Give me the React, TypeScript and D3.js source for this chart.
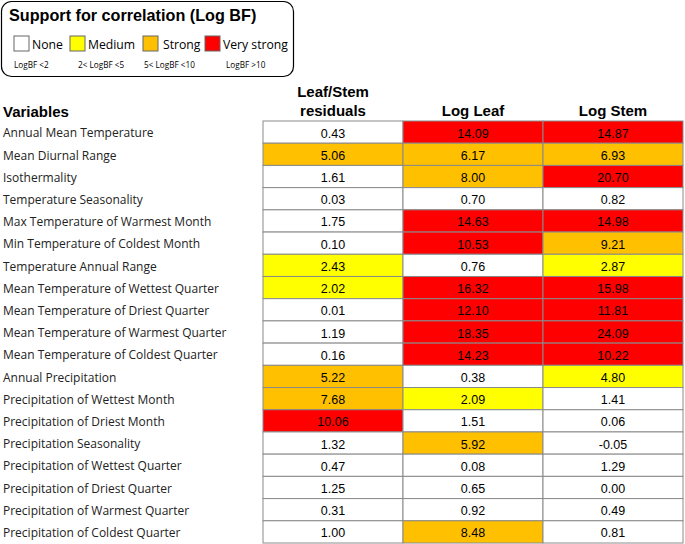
import React from "react";
import * as d3 from "d3";

const variables = [
  "Annual Mean Temperature",
  "Mean Diurnal Range",
  "Isothermality",
  "Temperature Seasonality",
  "Max Temperature of Warmest Month",
  "Min Temperature of Coldest Month",
  "Temperature Annual Range",
  "Mean Temperature of Wettest Quarter",
  "Mean Temperature of Driest Quarter",
  "Mean Temperature of Warmest Quarter",
  "Mean Temperature of Coldest Quarter",
  "Annual Precipitation",
  "Precipitation of Wettest Month",
  "Precipitation of Driest Month",
  "Precipitation Seasonality",
  "Precipitation of Wettest Quarter",
  "Precipitation of Driest Quarter",
  "Precipitation of Warmest Quarter",
  "Precipitation of Coldest Quarter",
];

const residuals = [0.43, 5.06, 1.61, 0.03, 1.75, 0.1, 2.43, 2.02, 0.01, 1.19, 0.16, 5.22, 7.68, 10.06, 1.32, 0.47, 1.25, 0.31, 1.0];
const logLeaf = [14.09, 6.17, 8.0, 0.7, 14.63, 10.53, 0.76, 16.32, 12.1, 18.35, 14.23, 0.38, 2.09, 1.51, 5.92, 0.08, 0.65, 0.92, 8.48];
const logStem = [14.87, 6.93, 20.7, 0.82, 14.98, 9.21, 2.87, 15.98, 11.81, 24.09, 10.22, 4.8, 1.41, 0.06, -0.05, 1.29, 0.0, 0.49, 0.81];

const columns = ["residuals", "leaf", "stem"];
const columnTitles = [["Leaf/Stem", "residuals"], ["Log Leaf"], ["Log Stem"]];
const seriesValues = [residuals, logLeaf, logStem];

const legendLabels = ["None", "Medium", "Strong", "Very strong"];
const legendSubLabels = ["LogBF <2", "2< LogBF <5", "5< LogBF <10", "LogBF >10"];
const thresholds = [2, 5, 10];
const colors = ["#FFFFFF", "#FFFF00", "#FFC000", "#FF0000"];

export default function App() {
  const width = 685;
  const height = 544;
  const color = d3.scaleThreshold<number, string>().domain(thresholds).range(colors);
  const x = d3.scaleBand().domain(columns).range([263, 683]);
  const y = d3.scaleBand().domain(variables).range([121, 543]);
  const bw = x.bandwidth();
  const bh = y.bandwidth();

  const legendSwatchX = [14, 70, 143, 205];
  const legendSubX = [14, 78, 144, 226];

  return (
    <svg width={width} height={height} style={{ position: "absolute", left: 0, top: 0 }}>
      <rect x={0} y={0} width={width} height={height} fill="#fff" />
      {/* legend */}
      <rect x={1.5} y={1.5} width={292} height={75} rx={10} ry={10} fill="#fff" stroke="#000" strokeWidth={1.2} />
      <text x={9} y={21} fontFamily="Liberation Sans, Arial, sans-serif" fontWeight="bold" fontSize={16.2}>
        Support for correlation (Log BF)
      </text>
      {legendLabels.map((l, i) => (
        <g key={l}>
          <rect x={legendSwatchX[i]} y={36} width={15} height={15} fill={colors[i]} stroke="#666" strokeWidth={1} />
          <text x={legendSwatchX[i] + 18 + (i === 2 ? 2 : 0)} y={49} fontFamily="Open Sans, sans-serif" fontSize={12.2}>
            {l}
          </text>
          <text x={legendSubX[i]} y={68} fontFamily="Open Sans, sans-serif" fontSize={8.2}>
            {legendSubLabels[i]}
          </text>
        </g>
      ))}
      {/* headers */}
      <text x={3} y={117} fontFamily="Liberation Sans, Arial, sans-serif" fontWeight="bold" fontSize={15}>
        Variables
      </text>
      {columns.map((c, i) => {
        const lines = columnTitles[i];
        const cx = (x(c) ?? 0) + bw / 2;
        return lines.map((t, j) => (
          <text
            key={c + j}
            x={cx}
            y={116 - (lines.length - 1 - j) * 19}
            textAnchor="middle"
            fontFamily="Liberation Sans, Arial, sans-serif"
            fontWeight="bold"
            fontSize={15}
          >
            {t}
          </text>
        ));
      })}
      {/* row labels */}
      {variables.map((v) => (
        <text
          key={v}
          x={3}
          y={(y(v) ?? 0) + bh / 2 + 1}
          dy="0.35em"
          fontFamily="Open Sans, sans-serif"
          fontSize={12}
          fill="#222"
        >
          {v}
        </text>
      ))}
      {/* cells */}
      {columns.map((c, ci) =>
        variables.map((v, ri) => {
          const val = seriesValues[ci][ri];
          return (
            <rect
              key={c + v}
              x={x(c)}
              y={y(v)}
              width={bw}
              height={bh}
              fill={color(val)}
              stroke="#8a8a8a"
              strokeWidth={1}
            />
          );
        })
      )}
      {columns.map((c, ci) =>
        variables.map((v, ri) => {
          const val = seriesValues[ci][ri];
          return (
            <text
              key={"t" + c + v}
              x={(x(c) ?? 0) + bw / 2}
              y={(y(v) ?? 0) + bh / 2 + 1}
              dy="0.36em"
              textAnchor="middle"
              fontFamily="Liberation Sans, Arial, sans-serif"
              fontSize={12.5}
              fill="#000"
            >
              {val.toFixed(2)}
            </text>
          );
        })
      )}
    </svg>
  );
}
